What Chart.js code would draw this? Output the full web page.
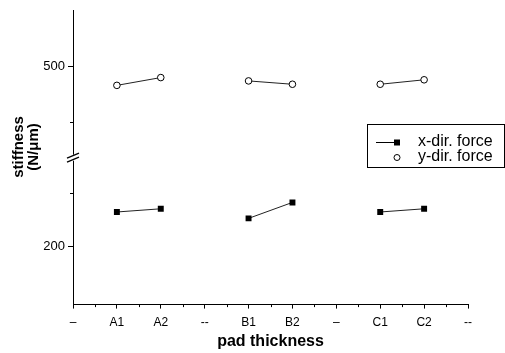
<!DOCTYPE html>
<html><head><meta charset="utf-8">
<script src="https://cdn.jsdelivr.net/npm/chart.js@4/dist/chart.umd.min.js"></script>
<style>html,body{margin:0;padding:0;background:#fff}#wrap{width:505px;height:353px}</style>
</head><body><div id="wrap"><canvas id="c" width="505" height="353"></canvas></div>
<script>
const categories = ['–','A1','A2','--','B1','B2','–','C1','C2','--'];
const xDirForce = [null,232,235,null,226,241,null,232,235,null];
const yDirForce = [null,483,490,null,487,484,null,484,488,null];
const upperMajorTicks = [500];
const upperMinorTicks = [450];
const lowerMajorTicks = [200];
const lowerMinorTicks = [250];
const seriesNames = ['x-dir. force','y-dir. force'];
const yTitleLines = ['stiffness','(N/μm)'];
const xTitle = 'pad thickness';

const FAM = "'Liberation Sans', Arial, Helvetica, sans-serif";

const extras = {
  id:'extras',
  afterDraw(chart){
    const ctx = chart.ctx;
    const top = chart.scales.yTop, bot = chart.scales.yBot, x = chart.scales.x;
    ctx.save();
    ctx.strokeStyle = '#000'; ctx.lineWidth = 1;
    const ax = chart.chartArea.left;
    upperMinorTicks.forEach(v=>{const py=Math.round(top.getPixelForValue(v))+0.5;ctx.beginPath();ctx.moveTo(ax-3,py);ctx.lineTo(ax,py);ctx.stroke();});
    lowerMinorTicks.forEach(v=>{const py=Math.round(bot.getPixelForValue(v))+0.5;ctx.beginPath();ctx.moveTo(ax-3,py);ctx.lineTo(ax,py);ctx.stroke();});
    const by = chart.chartArea.bottom;
    for(let i=0;i<categories.length-1;i++){
      const px = Math.round((x.getPixelForValue(i)+x.getPixelForValue(i+1))/2)+0.5;
      ctx.beginPath();ctx.moveTo(px,by);ctx.lineTo(px,by+2.5);ctx.stroke();
    }
    // axis break
    const mid = (top.bottom + bot.top)/2;
    ctx.fillStyle = '#fff';
    ctx.fillRect(ax-3, mid-3, 6, 6);
    ctx.lineWidth = 1.3;
    ctx.beginPath();ctx.moveTo(ax-6, mid+0.5);ctx.lineTo(ax+6, mid-4.5);ctx.stroke();
    ctx.beginPath();ctx.moveTo(ax-6, mid+4.5);ctx.lineTo(ax+6, mid-0.5);ctx.stroke();
    // y title
    ctx.fillStyle = '#000';
    ctx.font = "bold 15px " + FAM;
    ctx.textAlign = 'center'; ctx.textBaseline = 'middle';
    const cy = 147;
    [[19,yTitleLines[0]],[34,yTitleLines[1]]].forEach(([cx,t])=>{
      ctx.save();ctx.translate(cx,cy);ctx.rotate(-Math.PI/2);ctx.fillText(t,0,0);ctx.restore();
    });
    // legend
    ctx.lineWidth = 1;
    ctx.strokeRect(367.5,124.5,137,43);
    ctx.beginPath();ctx.moveTo(376,142.5);ctx.lineTo(399,142.5);ctx.stroke();
    ctx.fillStyle='#000';ctx.fillRect(394,139.5,6,6);
    ctx.beginPath();ctx.arc(397,157.5,3,0,Math.PI*2);ctx.fillStyle='#fff';ctx.fill();ctx.stroke();
    ctx.fillStyle='#000';ctx.font = "16px " + FAM;ctx.textAlign='left';
    ctx.fillText(seriesNames[0],418,142);
    ctx.fillText(seriesNames[1],418,157);
    ctx.restore();
  }
};

const yScale = (min,max,majors)=>({
  type:'linear', position:'left', stack:'y', stackWeight:1, min, max,
  afterBuildTicks:s=>{s.ticks = majors.map(v=>({value:v}));},
  afterFit:s=>{s.width = 73;},
  grid:{drawOnChartArea:false, drawTicks:true, tickLength:5, color:'#000'},
  border:{display:true, color:'#000', width:1},
  ticks:{color:'#000', font:{family:FAM, size:13}, padding:3}
});

new Chart(document.getElementById('c'),{
  type:'line',
  data:{
    labels:categories,
    datasets:[
      {label:seriesNames[0], data:xDirForce, yAxisID:'yBot', xAxisID:'x',
       borderColor:'#222', borderWidth:1, pointStyle:'rect', pointRadius:4.2,
       pointBackgroundColor:'#000', pointBorderColor:'#000', pointBorderWidth:0, spanGaps:false},
      {label:seriesNames[1], data:yDirForce, yAxisID:'yTop', xAxisID:'x',
       borderColor:'#222', borderWidth:1, pointStyle:'circle', pointRadius:3.3,
       pointBackgroundColor:'#fff', pointBorderColor:'#000', pointBorderWidth:1, spanGaps:false}
    ]
  },
  options:{
    responsive:false, animation:false, devicePixelRatio:1,
    layout:{padding:{left:0,right:37,top:10,bottom:3}},
    plugins:{legend:{display:false}, tooltip:{enabled:false}},
    scales:{
      x:{type:'category', offset:false,
         grid:{drawOnChartArea:false, drawTicks:true, tickLength:4, color:'#000'},
         border:{display:true, color:'#000', width:1},
         ticks:{color:'#000', font:{family:FAM, size:12}, padding:7, maxRotation:0, autoSkip:false},
         title:{display:true, text:xTitle, color:'#000', font:{family:FAM, size:16, weight:'bold', lineHeight:1}, padding:{top:-3,bottom:0}}},
      yBot: yScale(145,283,lowerMajorTicks),
      yTop: yScale(418,550,upperMajorTicks)
    }
  },
  plugins:[extras]
});
</script></body></html>
